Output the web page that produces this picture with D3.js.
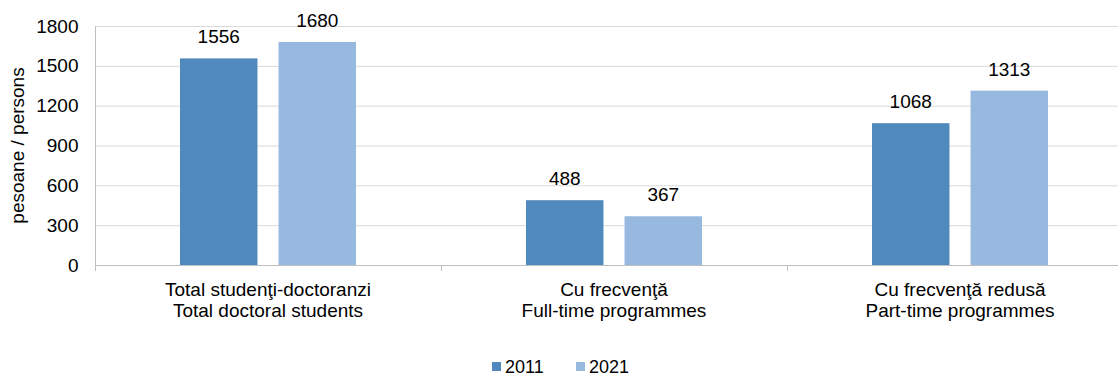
<!DOCTYPE html>
<html>
<head>
<meta charset="utf-8">
<script src="https://cdn.jsdelivr.net/npm/d3@7"></script>
<style>
  html, body { margin: 0; padding: 0; background: #fff; }
  svg { display: block; font-family: "Liberation Sans", Arial, sans-serif; }
</style>
</head>
<body>
<svg id="chart" width="1118" height="377"></svg>
<script>
// Doctoral students by form of attendance
const categories = [
  ["Total studenţi-doctoranzi", "Total doctoral students"],
  ["Cu frecvenţă", "Full-time programmes"],
  ["Cu frecvenţă redusă", "Part-time programmes"]
];
const years = ["2011", "2021"];
const values2011 = [1556, 488, 1068];
const values2021 = [1680, 367, 1313];
const yTicks = [0, 300, 600, 900, 1200, 1500, 1800];
const yTitle = "pesoane / persons";

const colors = { "2011": "#4F89BD", "2021": "#97B9E0" };
const series = [values2011, values2021];
const FONT = "Liberation Sans, Arial, sans-serif";
const FS = 19;

const svg = d3.select("#chart");
const plotLeft = 95, plotTop = 26, plotBottom = 265, plotRight = 95 + 346 * 3;

const x = d3.scaleBand().domain(d3.range(categories.length)).range([plotLeft, plotRight]);
const xs = d3.scaleBand().domain(years).range([85, 261]).paddingInner(0.214);
const y = d3.scaleLinear().domain([0, 1800]).range([plotBottom, plotTop]);

// gridlines
svg.append("g").selectAll("line").data(yTicks.filter(d => d > 0)).join("line")
  .attr("x1", plotLeft).attr("x2", plotRight)
  .attr("y1", d => y(d) + 0.5).attr("y2", d => y(d) + 0.5)
  .attr("stroke", "#D9D9D9").attr("stroke-width", 1);

// y axis (labels only, no tick marks)
const yAxis = svg.append("g").attr("transform", `translate(${plotLeft + 0.5},0)`)
  .call(d3.axisLeft(y).tickValues(yTicks).tickSize(0).tickPadding(17).tickFormat(d3.format("d")));
yAxis.select(".domain").attr("stroke", "#BFBFBF").attr("d", `M0,${plotTop}V${plotBottom}`);
yAxis.selectAll(".tick text").attr("font-size", FS).attr("fill", "#000")
  .attr("font-family", FONT);

// bars and value labels
series.forEach((vals, si) => {
  const yr = years[si];
  svg.append("g").selectAll("rect").data(vals).join("rect")
    .attr("x", (d, i) => x(i) + xs(yr))
    .attr("width", xs.bandwidth())
    .attr("y", d => y(d))
    .attr("height", d => y(0) - y(d))
    .attr("fill", colors[yr]);
  svg.append("g").selectAll("text").data(vals).join("text")
    .attr("x", (d, i) => x(i) + xs(yr) + xs.bandwidth() / 2)
    .attr("y", d => y(d) - 15)
    .attr("text-anchor", "middle")
    .attr("font-size", FS).attr("fill", "#000")
    .text(d => d);
});

// x axis
svg.append("line").attr("x1", plotLeft).attr("x2", plotRight)
  .attr("y1", plotBottom + 0.5).attr("y2", plotBottom + 0.5)
  .attr("stroke", "#BFBFBF");
svg.append("g").selectAll("line").data(d3.range(categories.length + 1)).join("line")
  .attr("x1", i => (i < categories.length ? x(i) : plotRight) + 0.5)
  .attr("x2", i => (i < categories.length ? x(i) : plotRight) + 0.5)
  .attr("y1", plotBottom).attr("y2", plotBottom + 6)
  .attr("stroke", "#BFBFBF");

const catLabels = svg.append("g").selectAll("text").data(categories).join("text")
  .attr("text-anchor", "middle").attr("font-size", FS).attr("fill", "#000");
catLabels.each(function(d, i) {
  const t = d3.select(this);
  d.forEach((line, li) => {
    t.append("tspan").attr("x", x(i) + x.bandwidth() / 2).attr("y", 296 + li * 21).text(line);
  });
});

// y axis title
svg.append("text")
  .attr("transform", `translate(24,${(plotTop + plotBottom) / 2}) rotate(-90)`)
  .attr("text-anchor", "middle").attr("font-size", FS).attr("fill", "#000")
  .text(yTitle);

// legend
const legendX = [492, 576];
const legend = svg.append("g").selectAll("g").data(years).join("g")
  .attr("transform", (d, i) => `translate(${legendX[i]},362)`);
legend.append("rect").attr("width", 9).attr("height", 9).attr("fill", d => colors[d]);
legend.append("text").attr("x", 13).attr("y", 11).attr("font-size", 18).attr("fill", "#000").text(d => d);
</script>
</body>
</html>
